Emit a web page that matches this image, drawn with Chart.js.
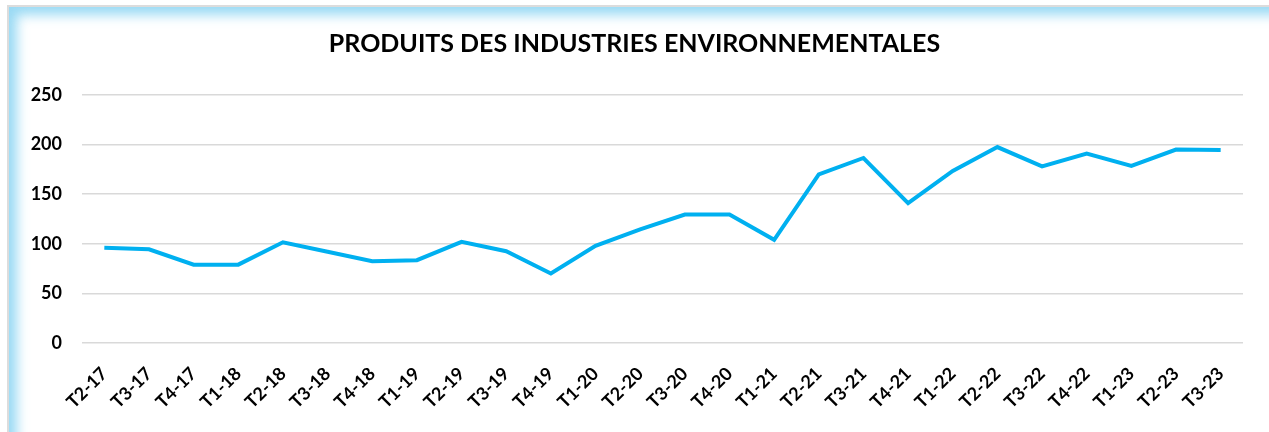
<!DOCTYPE html>
<html>
<head>
<meta charset="utf-8">
<script src="https://cdn.jsdelivr.net/npm/chart.js@4"></script>
<style>
    html, body {
        margin: 0;
        padding: 0;
        background: #ffffff;
        overflow: hidden;
    }
    .frame {
        position: absolute;
        left: 7px;
        top: 5px;
        width: 1300px;
        height: 460px;
        border-top: 2px solid #dcdcdc;
        border-left: 2px solid #dcdcdc;
        box-shadow: inset 14px 14px 12px -6px rgba(120, 205, 240, 0.75);
    }
    .wrap {
        position: absolute;
        left: 0;
        top: 0;
        width: 1269px;
        height: 432px;
    }
</style>
</head>
<body>
<div class="frame"></div>
<div class="wrap"><canvas id="envChart"></canvas></div>
<script>
const quarters = [
    "T2-17", "T3-17", "T4-17",
    "T1-18", "T2-18", "T3-18", "T4-18",
    "T1-19", "T2-19", "T3-19", "T4-19",
    "T1-20", "T2-20", "T3-20", "T4-20",
    "T1-21", "T2-21", "T3-21", "T4-21",
    "T1-22", "T2-22", "T3-22", "T4-22",
    "T1-23", "T2-23", "T3-23"
];

const produits = [
    96, 94.5, 79,
    79, 101.5, 92, 82.5,
    83.5, 102, 92.5, 70,
    98, 114.5, 129.5, 129.5,
    104, 170, 186.5, 141,
    173.5, 197.5, 178, 191,
    178.5, 195, 194.5
];

const yTicks = [0, 50, 100, 150, 200, 250];

const ctx = document.getElementById("envChart");

new Chart(ctx, {
    type: "line",
    data: {
        labels: quarters,
        datasets: [{
            data: produits,
            borderColor: "#00b0f0",
            borderWidth: 4,
            pointRadius: 0,
            tension: 0,
            fill: false
        }]
    },
    options: {
        responsive: true,
        maintainAspectRatio: false,
        animation: false,
        layout: {
            padding: 0
        },
        plugins: {
            legend: { display: false },
            tooltip: { enabled: false },
            title: {
                display: true,
                text: "PRODUITS DES INDUSTRIES ENVIRONNEMENTALES",
                color: "#000000",
                font: { family: "Lato", size: 25, weight: "bold" },
                padding: { top: 29, bottom: 36 }
            }
        },
        scales: {
            x: {
                offset: true,
                grid: { display: false, drawTicks: false },
                border: { display: false },
                afterFit: (scale) => { scale.height = 89; },
                ticks: {
                    color: "#000000",
                    maxRotation: 45,
                    minRotation: 45,
                    padding: 20,
                    autoSkip: false,
                    font: { family: "Lato", size: 18, weight: "bold" }
                }
            },
            y: {
                min: yTicks[0],
                max: yTicks[yTicks.length - 1],
                afterFit: (scale) => { scale.width = 82; },
                afterBuildTicks: (scale) => {
                    scale.ticks = yTicks.map(v => ({ value: v }));
                },
                grid: {
                    color: "#d9d9d9",
                    lineWidth: 1.5,
                    drawTicks: false
                },
                border: { display: false },
                ticks: {
                    color: "#000000",
                    padding: 20,
                    font: { family: "Lato", size: 18, weight: "bold" }
                }
            },
            // empty right-hand axis, only keeps the plot clear of the right edge
            yRight: {
                position: "right",
                min: yTicks[0],
                max: yTicks[yTicks.length - 1],
                grid: { display: false, drawTicks: false },
                border: { display: false },
                ticks: { display: false },
                afterFit: (scale) => { scale.width = 26; }
            }
        }
    }
});
</script>
</body>
</html>
